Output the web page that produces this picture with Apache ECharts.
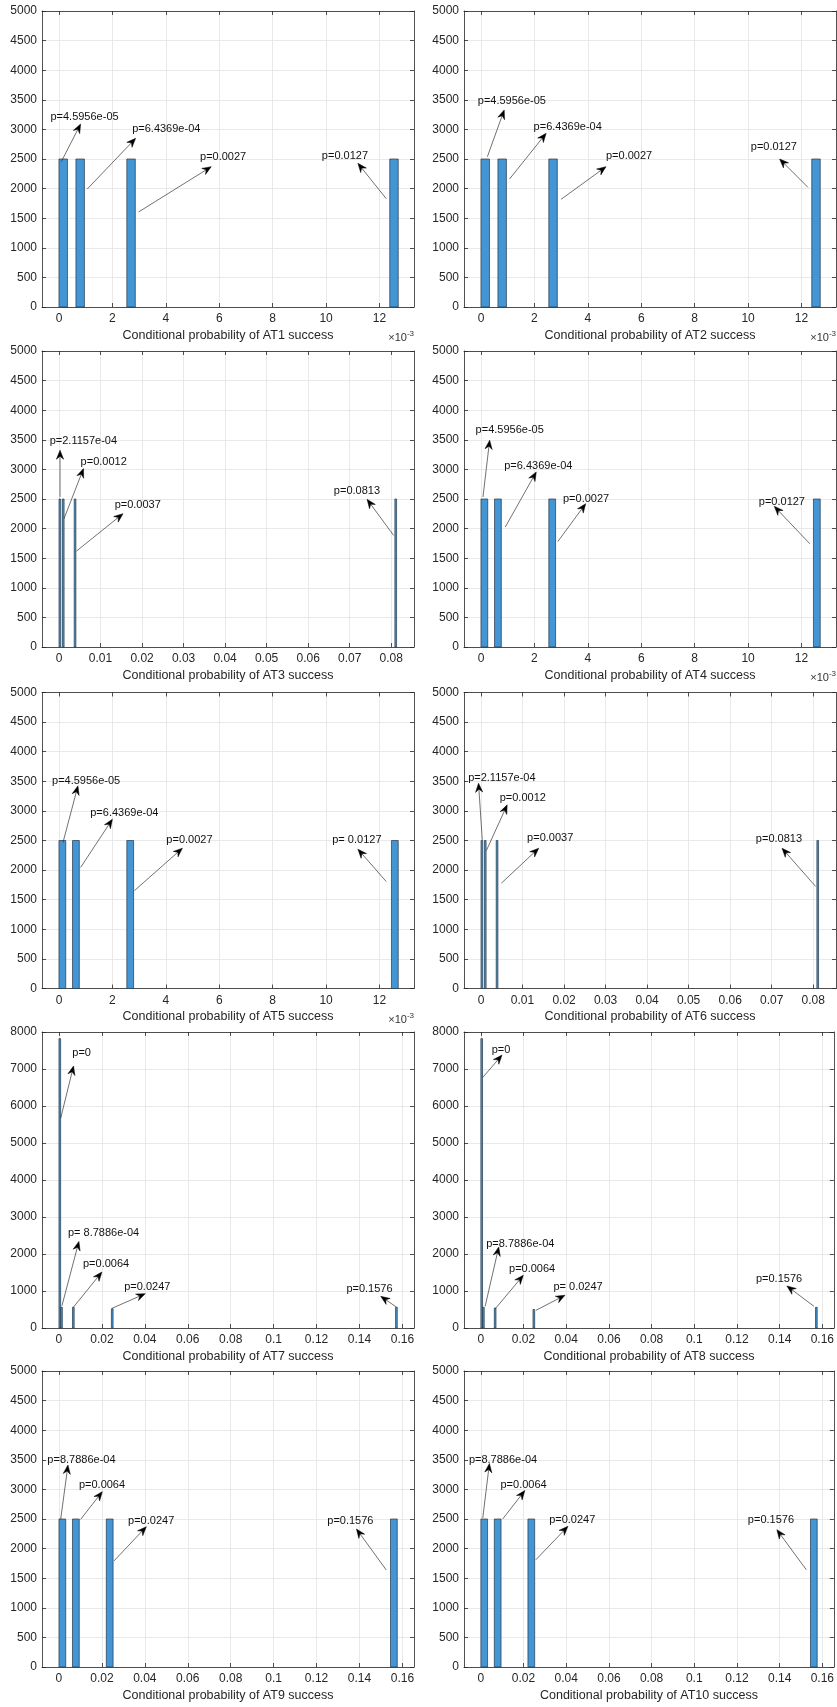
<!DOCTYPE html>
<html><head><meta charset="utf-8">
<script src="https://cdn.jsdelivr.net/npm/echarts@6/dist/echarts.min.js"></script>
<style>html,body{margin:0;padding:0;background:#fff}#c{width:837px;height:1707px}</style>
</head><body><div id="c"></div>
<script>
// ---------------- DATA ----------------
const panelNames = ['AT1','AT2','AT3','AT4','AT5','AT6','AT7','AT8','AT9','AT10'];
const xAxisTitles = [
  'Conditional probability of AT1 success','Conditional probability of AT2 success',
  'Conditional probability of AT3 success','Conditional probability of AT4 success',
  'Conditional probability of AT5 success','Conditional probability of AT6 success',
  'Conditional probability of AT7 success','Conditional probability of AT8 success',
  'Conditional probability of AT9 success','Conditional probability of AT10 success'
];
// histogram bins: left edges and bin width
const binLeft = [
  [0, 0.000635, 0.00254, 0.0123825],
  [0, 0.000635, 0.00254, 0.0123825],
  [0, 0.000813, 0.003659, 0.080894],
  [0, 0.000508, 0.00254, 0.012446],
  [0, 0.000508, 0.00254, 0.012446],
  [0, 0.000813, 0.003659, 0.080894],
  [0, 0.000788, 0.006304, 0.024428, 0.156812],
  [0, 0.000788, 0.006304, 0.024428, 0.156812],
  [0, 0.006304, 0.022064, 0.154448],
  [0, 0.006304, 0.022064, 0.154448]
];
const binWidth = [0.0003175, 0.0003175, 0.0004065, 0.000254, 0.000254, 0.0004065, 0.000788, 0.000788, 0.003152, 0.003152];
const counts = [
  [2500, 2500, 2500, 2500],
  [2500, 2500, 2500, 2500],
  [2500, 2500, 2500, 2500],
  [2500, 2500, 2500, 2500],
  [2500, 2500, 2500, 2500],
  [2500, 2500, 2500, 2500],
  [7820, 560, 560, 520, 560],
  [7820, 560, 540, 500, 560],
  [2500, 2500, 2500, 2500],
  [2500, 2500, 2500, 2500]
];
const pLabels = [
  ['p=4.5956e-05','p=6.4369e-04','p=0.0027','p=0.0127'],
  ['p=4.5956e-05','p=6.4369e-04','p=0.0027','p=0.0127'],
  ['p=2.1157e-04','p=0.0012','p=0.0037','p=0.0813'],
  ['p=4.5956e-05','p=6.4369e-04','p=0.0027','p=0.0127'],
  ['p=4.5956e-05','p=6.4369e-04','p=0.0027','p= 0.0127'],
  ['p=2.1157e-04','p=0.0012','p=0.0037','p=0.0813'],
  ['p=0','p= 8.7886e-04','p=0.0064','p=0.0247','p=0.1576'],
  ['p=0','p=8.7886e-04','p=0.0064','p= 0.0247','p=0.1576'],
  ['p=8.7886e-04','p=0.0064','p=0.0247','p=0.1576'],
  ['p=8.7886e-04','p=0.0064','p=0.0247','p=0.1576']
];
// annotation anchors in data units: [textX, textY, tailX, tailY, headX, headY]
const annotations = [
  [[-0.00032,3215,0.000087,2455,0.00081,3091],[0.00274,3012,0.00106,1993,0.00287,2849],[0.00528,2539,0.00298,1605,0.0057,2370],[0.00984,2551,0.01225,1830,0.01119,2427]],
  [[-0.00012,3480,0.00024,2539,0.00087,3328],[0.00197,3046,0.00107,2162,0.00244,2934],[0.00468,2551,0.0030,1819,0.00468,2370],[0.0101,2697,0.01224,2021,0.01118,2500]],
  [[-0.00225,3482,0.00024,2534,0.00024,3324],[0.0052,3126,0.0012,2167,0.0059,3014],[0.0134,2393,0.0042,1620,0.0154,2252],[0.0662,2630,0.0806,1885,0.0742,2494]],
  [[-0.0002,3662,0.000075,2534,0.000325,3493],[0.00087,3053,0.00091,2026,0.00207,2957],[0.00307,2506,0.00288,1783,0.00392,2421],[0.0104,2449,0.01231,1744,0.01098,2376]],
  [[-0.00026,3508,0.00015,2466,0.00071,3423],[0.00117,2962,0.00081,2044,0.0020,2860],[0.00402,2511,0.00283,1655,0.00462,2370],[0.01023,2511,0.01225,1807,0.01119,2354]],
  [[-0.0031,3553,0.0003,2511,-0.0006,3468],[0.0045,3215,0.0013,2331,0.0063,3102],[0.0111,2539,0.0049,1779,0.0139,2370],[0.0662,2522,0.0806,1723,0.0725,2370]],
  [[0.0062,7442,0.0008,5669,0.0068,7082],[0.0042,2565,0.0014,603,0.0093,2340],[0.0112,1737,0.0068,567,0.020,1512],[0.0304,1107,0.0247,531,0.0402,927],[0.1339,1053,0.1572,567,0.1499,855]],
  [[0.0051,7511,0.0009,6772,0.0099,7376],[0.0025,2263,0.002,586,0.0084,2191],[0.0132,1605,0.0068,523,0.0199,1425],[0.034,1109,0.0258,478,0.0394,884],[0.1289,1335,0.1561,586,0.1434,1136]],
  [[-0.0054,3497,0.0008,2494,0.0042,3412],[0.0093,3069,0.0101,2494,0.0202,2962],[0.0322,2472,0.0256,1791,0.0407,2370],[0.125,2472,0.1525,1638,0.1386,2331]],
  [[-0.0056,3504,0.0009,2517,0.004,3437],[0.0092,3081,0.0102,2500,0.0206,2980],[0.032,2489,0.0258,1812,0.0408,2376],[0.1251,2477,0.1525,1642,0.1387,2319]]
];
// axis ranges and ticks
const xMin = [-0.000635,-0.000635,-0.0041,-0.000635,-0.000635,-0.0041,-0.0079,-0.0079,-0.0079,-0.0079];
const xMax = [0.01329,0.01329,0.0855,0.01329,0.01329,0.0855,0.1654,0.1654,0.1654,0.1654];
const ticksMilli = [0,0.002,0.004,0.006,0.008,0.010,0.012];
const ticksMilliLabels = ['0','2','4','6','8','10','12'];
const ticksCenti = [0,0.01,0.02,0.03,0.04,0.05,0.06,0.07,0.08];
const ticksCentiLabels = ['0','0.01','0.02','0.03','0.04','0.05','0.06','0.07','0.08'];
const ticksWide = [0,0.02,0.04,0.06,0.08,0.10,0.12,0.14,0.16];
const ticksWideLabels = ['0','0.02','0.04','0.06','0.08','0.1','0.12','0.14','0.16'];
const xTickSet = ['milli','milli','centi','milli','milli','centi','wide','wide','wide','wide'];
const yMax = [5000,5000,5000,5000,5000,5000,8000,8000,5000,5000];
const yInterval = [500,500,500,500,500,500,1000,1000,500,500];
const showExponent = [true,true,false,true,true,false,false,false,false,false];

// ---------------- LAYOUT ----------------
const FONT = '"Liberation Sans", Arial, sans-serif';
const colLeft = [42, 464];
const gridW = 372;
const rowTop = [11, 351, 692.5, 1032, 1371];
const gridH = 296;
const AX = '#262626';
const GRIDC = '#e3e3e3';
const BAR_FILL = '#4396d3';
const BAR_EDGE = '#23384a';

const tickSets = {
  milli: [ticksMilli, ticksMilliLabels],
  centi: [ticksCenti, ticksCentiLabels],
  wide: [ticksWide, ticksWideLabels]
};

const grids = [], xAxes = [], yAxes = [], series = [], graphics = [];
panelNames.forEach((name, i) => {
  const col = i % 2, row = Math.floor(i / 2);
  grids.push({left: colLeft[col], top: rowTop[row], width: gridW, height: gridH, containLabel: false});
  const [tv, tl] = tickSets[xTickSet[i]];
  const fmt = v => {
    for (let k = 0; k < tv.length; k++) if (Math.abs(tv[k] - v) < 1e-9) return tl[k];
    return '';
  };
  xAxes.push({
    type: 'value', gridIndex: i, position: 'bottom', min: xMin[i], max: xMax[i],
    name: xAxisTitles[i], nameLocation: 'middle', nameGap: 22,
    nameTextStyle: {fontFamily: FONT, fontSize: 12.5, color: AX},
    axisLine: {show: true, onZero: false, lineStyle: {color: AX, width: 0.8}},
    axisTick: {show: true, inside: true, length: 4, customValues: tv, lineStyle: {color: AX, width: 0.8}},
    axisLabel: {show: true, customValues: tv, formatter: fmt, fontFamily: FONT, fontSize: 12, color: AX, margin: 6},
    splitLine: {show: true, lineStyle: {color: GRIDC, width: 0.8}}
  });
  xAxes.push({
    type: 'value', gridIndex: i, position: 'top', min: xMin[i], max: xMax[i],
    axisLine: {show: true, onZero: false, lineStyle: {color: AX, width: 0.8}},
    axisTick: {show: true, inside: true, length: 4, customValues: tv, lineStyle: {color: AX, width: 0.8}},
    axisLabel: {show: false}, splitLine: {show: false}
  });
  yAxes.push({
    type: 'value', gridIndex: i, position: 'left', min: 0, max: yMax[i], interval: yInterval[i],
    axisLine: {show: true, onZero: false, lineStyle: {color: AX, width: 0.8}},
    axisTick: {show: true, inside: true, length: 4, lineStyle: {color: AX, width: 0.8}},
    axisLabel: {fontFamily: FONT, fontSize: 12, color: AX, margin: 5, formatter: v => String(v)},
    splitLine: {show: true, lineStyle: {color: GRIDC, width: 0.8}}
  });
  yAxes.push({
    type: 'value', gridIndex: i, position: 'right', min: 0, max: yMax[i], interval: yInterval[i],
    axisLine: {show: true, onZero: false, lineStyle: {color: AX, width: 0.8}},
    axisTick: {show: true, inside: true, length: 4, lineStyle: {color: AX, width: 0.8}},
    axisLabel: {show: false}, splitLine: {show: false}
  });

  // bars
  const barData = binLeft[i].map((l, j) => [l, l + binWidth[i], counts[i][j]]);
  series.push({
    type: 'custom', xAxisIndex: 2 * i, yAxisIndex: 2 * i, z: 3,
    encode: {x: [0, 1], y: 2},
    data: barData,
    renderItem: (params, api) => {
      const p0 = api.coord([api.value(0), 0]);
      const p1 = api.coord([api.value(1), api.value(2)]);
      return {type: 'rect',
        shape: {x: p0[0], y: p1[1], width: p1[0] - p0[0], height: p0[1] - p1[1]},
        style: {fill: BAR_FILL, stroke: BAR_EDGE, lineWidth: 0.7}};
    }
  });

  // annotations
  const labels = pLabels[i];
  series.push({
    type: 'custom', xAxisIndex: 2 * i, yAxisIndex: 2 * i, z: 5,
    encode: {x: [0, 2, 4], y: [1, 3, 5]},
    data: annotations[i],
    renderItem: (params, api) => {
      const t = api.coord([api.value(0), api.value(1)]);
      const a = api.coord([api.value(2), api.value(3)]);
      const b = api.coord([api.value(4), api.value(5)]);
      const dx = b[0] - a[0], dy = b[1] - a[1];
      const len = Math.sqrt(dx * dx + dy * dy) || 1;
      const ux = dx / len, uy = dy / len, nx = -uy, ny = ux;
      const L = 9, W = 3.6, N = 6;
      const back = [b[0] - L * ux, b[1] - L * uy];
      const notch = [b[0] - N * ux, b[1] - N * uy];
      return {type: 'group', children: [
        {type: 'line', shape: {x1: a[0], y1: a[1], x2: notch[0], y2: notch[1]},
          style: {stroke: '#333', lineWidth: 0.7}},
        {type: 'polygon', shape: {points: [b, [back[0] + W * nx, back[1] + W * ny], notch, [back[0] - W * nx, back[1] - W * ny]]},
          style: {fill: '#000', stroke: '#000', lineWidth: 0.5}},
        {type: 'text', x: t[0], y: t[1],
          style: {text: labels[params.dataIndex], fontFamily: FONT, fontSize: 11, fill: '#111', align: 'left', verticalAlign: 'middle'}}
      ]};
    }
  });

  if (showExponent[i]) {
    graphics.push({
      type: 'text', right: 837 - (colLeft[col] + gridW), top: rowTop[row] + gridH + 23,
      style: {
        text: '{a|×10}{b|-3}',
        rich: {a: {fontFamily: FONT, fontSize: 11, fill: '#333'}, b: {fontFamily: FONT, fontSize: 8, fill: '#333', verticalAlign: 'top', padding: [0, 0, 8, 0]}}
      }
    });
  }
});

const chart = echarts.init(document.getElementById('c'), null, {renderer: 'canvas'});
chart.setOption({
  animation: false,
  backgroundColor: '#fff',
  grid: grids, xAxis: xAxes, yAxis: yAxes, series: series, graphic: graphics
});
</script></body></html>
